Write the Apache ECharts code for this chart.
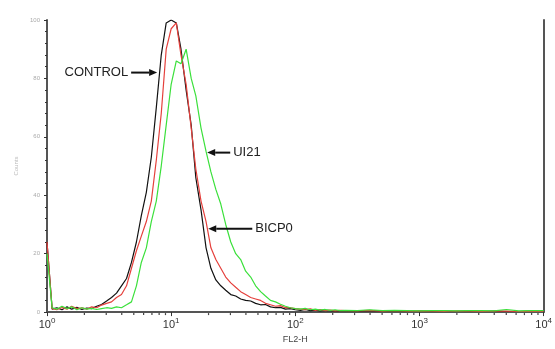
<!DOCTYPE html>
<html>
<head>
<meta charset="utf-8">
<script src="https://cdn.jsdelivr.net/npm/echarts@6/dist/echarts.min.js"></script>
<style>
html,body{margin:0;padding:0;background:#fff;}
#chart{width:555px;height:349px;}
</style>
</head>
<body>
<div id="chart"></div>
<script>
// FL2-H channel centres (log-spaced bins)
const fl2 = [1, 1.10, 1.20, 1.32, 1.45, 1.58, 1.74, 1.91, 2.09, 2.29, 2.51, 2.75, 3.02, 3.31, 3.63, 3.98,
  4.37, 4.79, 5.25, 5.75, 6.31, 6.92, 7.59, 8.32, 9.12, 10, 11.0, 12.0, 13.2, 14.5, 15.8, 17.4, 19.1,
  20.9, 22.9, 25.1, 27.5, 30.2, 33.1, 36.3, 39.8, 43.7, 47.9, 52.5, 57.5, 63.1, 69.2, 75.9, 83.2, 91.2,
  100, 110, 120, 132, 145, 158, 174, 191, 209, 229, 251,
  316, 398, 501, 631, 794, 1000, 1259, 1585, 1995, 2512, 3162, 3981, 5012, 6310, 7943, 10000];

const control = [24, 1, 1.5, 0.8, 1.8, 1, 1.6, 0.9, 1.4, 1.2, 2, 2.6, 3.8, 5, 6.5, 9,
  11.5, 17, 24, 33, 41, 53, 70, 88, 99, 100, 99, 90, 76, 64, 46, 35, 22,
  15, 11, 9, 7.5, 6, 5.5, 4.5, 4, 3.8, 3, 2.5, 2.6, 1.8, 1.5, 1.6, 1, 1.2,
  0.8, 0.6, 0.9, 0.5, 0.7, 0.4, 0.6, 0.5, 0.3, 0.5, 0.4,
  0.3, 0.5, 0.3, 0.4, 0.2, 0.3, 0.2, 0.3, 0.2, 0.3, 0.2, 0.3, 0.2, 0.2, 0.3, 0.2];

const bicp0 = [24, 1.2, 0.8, 1.6, 1, 2, 1.2, 1.5, 1, 1.8, 1.5, 2.4, 3, 3.5, 5, 6,
  9, 15, 21, 26, 31, 38, 52, 68, 90, 97, 99, 88, 78, 63, 49, 38, 31,
  22, 18, 15, 12, 10, 8.5, 7, 6, 5, 4.5, 4, 3, 2.5, 2, 2.2, 1.5, 1.5,
  1.2, 1, 0.8, 1.1, 0.6, 0.9, 0.5, 0.7, 0.4, 0.6, 0.5,
  0.4, 0.6, 0.3, 0.5, 0.3, 0.4, 0.3, 0.2, 0.4, 0.3, 0.2, 0.3, 0.3, 0.2, 0.3, 0.2];

const ui21 = [20, 1.5, 1, 2, 1.2, 1.8, 0.8, 1.5, 1, 1.3, 0.9, 1.2, 1.5, 1.3, 1.8, 1.5,
  2.5, 3.5, 9, 17, 22, 31, 38, 50, 64, 78, 86, 85, 90, 80, 74, 63, 55,
  48, 42, 37, 30, 24, 20, 18, 14, 12, 9, 7, 5.5, 4, 3.5, 2.7, 2, 1.5,
  1.2, 1, 1.3, 0.8, 1, 0.7, 0.9, 0.6, 0.8, 0.5, 0.6,
  0.5, 0.8, 0.5, 0.6, 0.5, 0.4, 0.5, 0.5, 0.4, 0.5, 0.5, 0.4, 0.9, 0.4, 0.5, 0.5];

// log-axis minor tick positions
const minorTicks = [2, 3, 4, 5, 6, 7, 8, 9, 20, 30, 40, 50, 60, 70, 80, 90,
  200, 300, 400, 500, 600, 700, 800, 900, 2000, 3000, 4000, 5000, 6000, 7000, 8000, 9000];

// annotation arrows in data coordinates
const annotations = [
  {text: 'CONTROL', tail: [4.76, 82], head: [7.71, 82], side: 'left'},
  {text: 'UI21', tail: [29.9, 54.6], head: [19.5, 54.6], side: 'right'},
  {text: 'BICP0', tail: [45, 28.5], head: [19.9, 28.5], side: 'right'}
];

const chart = echarts.init(document.getElementById('chart'), null, {renderer: 'canvas'});
const FONT = "'Liberation Sans', Arial, sans-serif";

function mk(vals) { return fl2.map((x, i) => [x, vals[i]]); }

const option = {
  animation: false,
  backgroundColor: '#fff',
  grid: {left: 47, right: 11, top: 20, bottom: 34, containLabel: false},
  xAxis: [{
    type: 'log', logBase: 10, min: 1, max: 10000,
    splitLine: {show: false},
    axisLine: {lineStyle: {color: '#999', width: 1}},
    axisTick: {show: true, length: 4, lineStyle: {color: '#333', width: 1}},
    minorTick: {show: false},
    axisLabel: {
      margin: 5, color: '#333', fontFamily: FONT,
      formatter: v => '{b|10}{s|' + Math.round(Math.log10(v)) + '}',
      rich: {b: {fontSize: 11, fontFamily: FONT, color: '#333'},
             s: {fontSize: 8, fontFamily: FONT, color: '#333', padding: [0, 0, 7, 0]}}
    },
    name: 'FL2-H', nameLocation: 'middle', nameGap: 21,
    nameTextStyle: {fontSize: 9, color: '#444', fontFamily: FONT}
  }, {
    type: 'value', position: 'top', min: 0, max: 1,
    axisLine: {show: true, lineStyle: {color: '#555', width: 2}},
    axisTick: {show: false}, axisLabel: {show: false}, splitLine: {show: false}
  }],
  yAxis: [{
    type: 'value', min: 0, max: 100, interval: 20,
    axisLine: {show: true, lineStyle: {color: '#555', width: 2}},
    axisTick: {show: true, length: 3, lineStyle: {color: '#333'}},
    minorTick: {show: true, splitNumber: 5, length: 2, lineStyle: {color: '#333'}},
    splitLine: {show: false},
    axisLabel: {fontSize: 6, color: '#aaa', margin: 7, fontFamily: FONT},
    name: 'Counts', nameLocation: 'middle', nameGap: 24,
    nameTextStyle: {fontSize: 6, color: '#bbb', fontFamily: FONT}
  }, {
    type: 'value', position: 'right', min: 0, max: 1,
    axisLine: {show: true, lineStyle: {color: '#555', width: 2}},
    axisTick: {show: false}, axisLabel: {show: false}, splitLine: {show: false}
  }],
  series: [
    {type: 'line', name: 'CONTROL', data: mk(control), symbol: 'none',
     lineStyle: {color: '#111', width: 1.2}, z: 3},
    {type: 'line', name: 'BICP0', data: mk(bicp0), symbol: 'none',
     lineStyle: {color: '#e5403c', width: 1.2}, z: 4},
    {type: 'line', name: 'UI21', data: mk(ui21), symbol: 'none',
     lineStyle: {color: '#3be03b', width: 1.2}, z: 5},
    {type: 'custom', name: 'minor', silent: true, clip: false, z: 2,
     data: minorTicks.map(v => [v, 0]),
     renderItem: (params, api) => {
       const p = api.coord([api.value(0), 0]);
       return {type: 'line', shape: {x1: p[0], y1: p[1] + 1, x2: p[0], y2: p[1] + 3},
               style: {stroke: '#444', lineWidth: 1.2}};
     }}
  ]
};
chart.setOption(option);

// annotations: arrows + labels positioned through the chart's own scales
const g = [];
annotations.forEach(a => {
  const t = chart.convertToPixel({gridIndex: 0}, a.tail);
  const h = chart.convertToPixel({gridIndex: 0}, a.head);
  const dir = Math.sign(h[0] - t[0]);
  const len = 8, hw = 3.5;
  g.push({type: 'line', shape: {x1: t[0], y1: t[1], x2: h[0] - dir * len, y2: h[1]},
          style: {stroke: '#111', lineWidth: 2}, z: 100});
  g.push({type: 'polygon', shape: {points: [[h[0], h[1]], [h[0] - dir * len, h[1] - hw], [h[0] - dir * len, h[1] + hw]]},
          style: {fill: '#111'}, z: 100});
  g.push({type: 'text', x: a.side === 'left' ? t[0] - 3 : t[0] + 3, y: t[1],
          style: {text: a.text, fill: '#222', font: '13px ' + FONT,
                  align: a.side === 'left' ? 'right' : 'left', verticalAlign: 'middle'}, z: 100});
});
chart.setOption({graphic: g});
</script>
</body>
</html>
